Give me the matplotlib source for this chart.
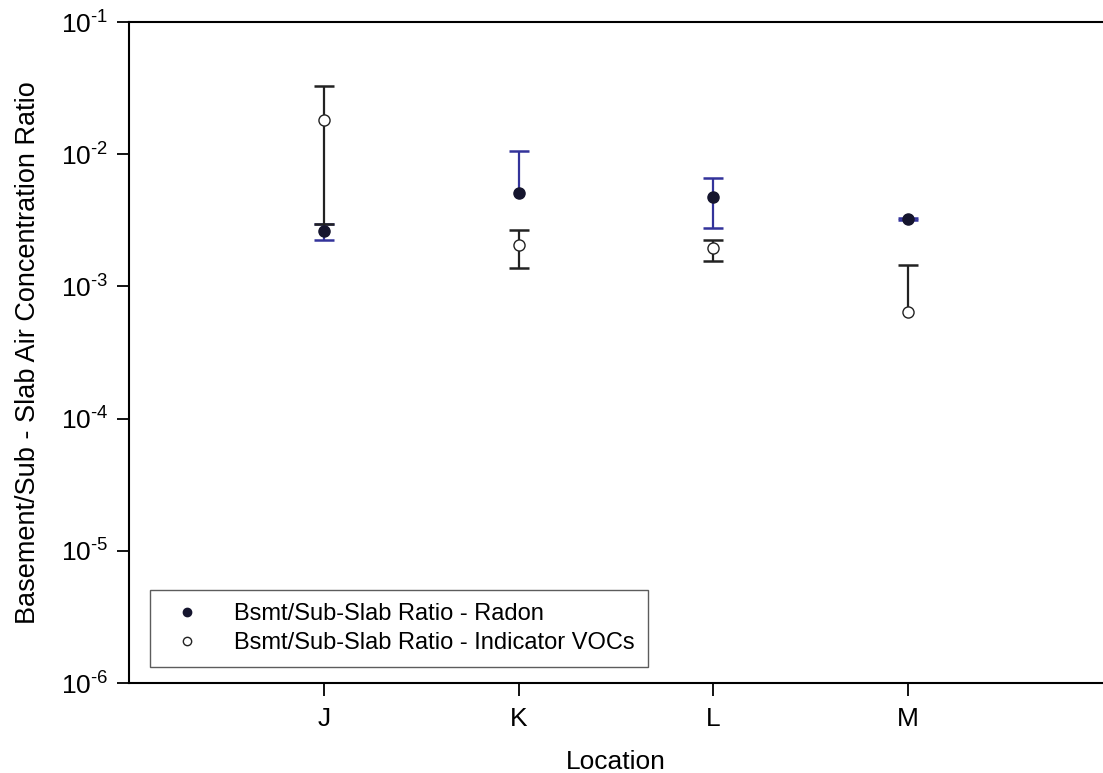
import numpy as np
import matplotlib
matplotlib.use("Agg")
import matplotlib.pyplot as plt

plt.rcParams['font.family'] = ['Liberation Sans', 'DejaVu Sans']
plt.rcParams['mathtext.fontset'] = 'custom'
plt.rcParams['mathtext.rm'] = 'Liberation Sans'
plt.rcParams['mathtext.it'] = 'Liberation Sans'

# data
locations = ['J', 'K', 'L', 'M']
radon = [0.00262, 0.00509, 0.00472, 0.00324]
radon_low = [0.00224, 0.00509, 0.00278, 0.00317]
radon_high = [0.00296, 0.01057, 0.00664, 0.00330]
voc = [0.0181, 0.00206, 0.00195, 0.000637]
voc_low = [0.00296, 0.00139, 0.00156, 0.000637]
voc_high = [0.0328, 0.00267, 0.00224, 0.00145]
ytick_exp = [-6, -5, -4, -3, -2, -1]

blue = '#33339a'
x = np.arange(1, len(locations) + 1)

fig = plt.figure(figsize=(11.03, 7.73), dpi=100)
ax = fig.add_axes([0.117, 0.1164, 0.883, 0.8551])


def draw_bars(vals, low, high, color):
    ax.vlines(x, low, high, color=color, lw=1.6, zorder=2)
    for xi, v, lo, hi in zip(x, vals, low, high):
        if hi != v:
            ax.plot(xi, hi, marker='_', ms=14, mew=1.8, color=color, zorder=2)
        if lo != v:
            ax.plot(xi, lo, marker='_', ms=14, mew=1.8, color=color, zorder=2)


draw_bars(radon, radon_low, radon_high, blue)
draw_bars(voc, voc_low, voc_high, '#222222')

ax.plot(x, radon, 'o', ms=8, mfc='#15152e', mec='#15152e', ls='none',
        zorder=3, label='Bsmt/Sub-Slab Ratio - Radon')
ax.plot(x, voc, 'o', ms=8, mfc='white', mec='#222222', mew=1.0, ls='none',
        zorder=3, label='Bsmt/Sub-Slab Ratio - Indicator VOCs')

ax.set_yscale('log')
ax.set_ylim(1e-6, 1e-1)
ax.set_xlim(0, 5)
ax.set_xticks(x)
ax.set_xticklabels(locations)
ax.minorticks_off()
ax.set_yticks([10.0 ** e for e in ytick_exp])
ax.set_yticklabels([r'$\mathregular{10^{\text{-}%d}}$' % -e for e in ytick_exp])

ax.tick_params(axis='both', labelsize=19, length=9, width=1.3, direction='out')
ax.tick_params(axis='x', pad=8)
ax.tick_params(axis='y', pad=6)
ax.spines['right'].set_visible(False)
for s in ['left', 'bottom', 'top']:
    ax.spines[s].set_linewidth(1.5)

ax.set_xlabel('Location', fontsize=19, labelpad=14)
ax.set_ylabel('Basement/Sub - Slab Air Concentration Ratio', fontsize=19.5, labelpad=14)

leg = ax.legend(loc='lower left', bbox_to_anchor=(0.0216, 0.0242), borderaxespad=0,
                fontsize=17, frameon=True, fancybox=False, edgecolor='#333333',
                handlelength=2.0, handletextpad=1.0, borderpad=0.55,
                markerscale=0.75, labelspacing=0.3)
leg.get_frame().set_linewidth(1.0)

fig.savefig('out.png', dpi=100)
